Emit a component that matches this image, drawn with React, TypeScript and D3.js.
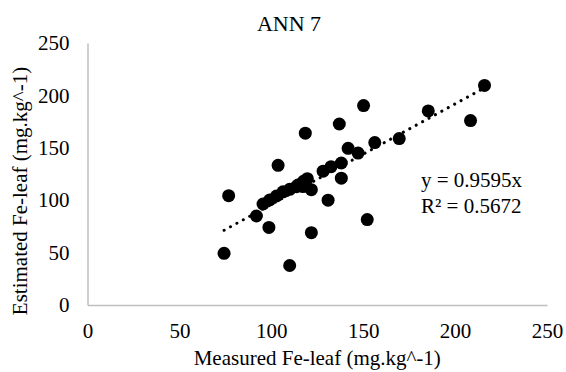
import React, { useEffect, useRef } from 'react';
import * as d3 from 'd3';

// measured vs estimated Fe-leaf (mg.kg^-1)
const measured = [
  74.3, 76.8, 91.9, 98.7, 103.7, 110, 118.5, 121.8, 121.8, 119.6,
  130.9, 128.2, 132.5, 138.1, 138.1, 137, 141.8, 147.2, 150.2, 152.2,
  156.3, 169.6, 185.4, 208.4, 216,
  95.5, 99.1, 102.8, 106.4, 110, 114.5, 117.5, 113.7, 117.3,
];
const estimated = [
  49.3, 104.3, 84.9, 74, 133.3, 37.7, 164, 69, 110, 120.5,
  100, 127.7, 132, 135.5, 121, 172.7, 149.5, 145, 190.3, 81.5,
  155, 158.8, 185.2, 176, 209.5,
  96.4, 100.2, 104, 108, 110.4, 114.5, 118, 112.9, 113,
];
const axisTicks = [0, 50, 100, 150, 200, 250];
const slope = 0.9595;
const equationLines = ['y = 0.9595x', 'R² = 0.5672'];

const W = 566, H = 372;
const FONT = '"Liberation Serif", "Times New Roman", serif';

const App = () => {
  const ref = useRef<SVGSVGElement | null>(null);

  useEffect(() => {
    if (!ref.current) return;
    const svg = d3.select(ref.current);
    svg.selectAll('*').remove();

    const x = d3.scaleLinear().domain([0, 250]).range([87.5, 547]);
    const y = d3.scaleLinear().domain([0, 250]).range([305, 43]);

    // axes: grey lines, no tick marks
    const gx = svg.append('g')
      .attr('transform', `translate(0,${y(0)})`)
      .call(d3.axisBottom(x).tickValues(axisTicks).tickSize(0).tickPadding(18));
    const gy = svg.append('g')
      .attr('transform', `translate(${x(0)},0)`)
      .call(d3.axisLeft(y).tickValues(axisTicks).tickSize(0).tickPadding(18));
    [gx, gy].forEach(g => {
      g.attr('font-family', FONT).attr('font-size', 21);
      g.select('.domain').attr('stroke', '#bfbfbf').attr('stroke-width', 1.5);
      g.selectAll('text')
        .attr('fill', '#000')
        .style('font-family', FONT)
        .style('font-size', '21px');
    });

    // trendline through the origin, dotted
    const [x0, x1] = d3.extent(measured) as [number, number];
    svg.append('path')
      .datum([x0, x1])
      .attr('fill', 'none')
      .attr('stroke', '#000')
      .attr('stroke-width', 3)
      .attr('stroke-linecap', 'round')
      .attr('stroke-dasharray', '0.1 7.2')
      .attr('d', d3.line<number>().x(d => x(d)).y(d => y(d * slope)));

    // points
    svg.append('g')
      .selectAll('circle')
      .data(measured.map((m, i) => [m, estimated[i]]))
      .join('circle')
      .attr('cx', d => x(d[0]))
      .attr('cy', d => y(d[1]))
      .attr('r', 6.5)
      .attr('fill', '#000');

    // equation
    svg.append('g')
      .selectAll('text')
      .data(equationLines)
      .join('text')
      .attr('x', 421)
      .attr('y', (d, i) => 187 + i * 26)
      .style('font-family', FONT)
      .style('font-size', '21px')
      .text(d => d);

    // title and axis titles
    svg.append('text')
      .attr('x', 289).attr('y', 31)
      .attr('text-anchor', 'middle')
      .style('font-family', FONT).style('font-size', '22px')
      .text('ANN 7');

    svg.append('text')
      .attr('x', (x(0) + x(250)) / 2).attr('y', 365)
      .attr('text-anchor', 'middle')
      .style('font-family', FONT).style('font-size', '21px')
      .text('Measured Fe-leaf (mg.kg^-1)');

    svg.append('text')
      .attr('transform', `translate(27,191) rotate(-90)`)
      .attr('text-anchor', 'middle')
      .style('font-family', FONT).style('font-size', '21px')
      .text('Estimated Fe-leaf (mg.kg^-1)');
  }, []);

  return (
    <svg
      ref={ref}
      width={W}
      height={H}
      style={{ position: 'absolute', left: 0, top: 0, background: '#fff' }}
    />
  );
};

export default App;
